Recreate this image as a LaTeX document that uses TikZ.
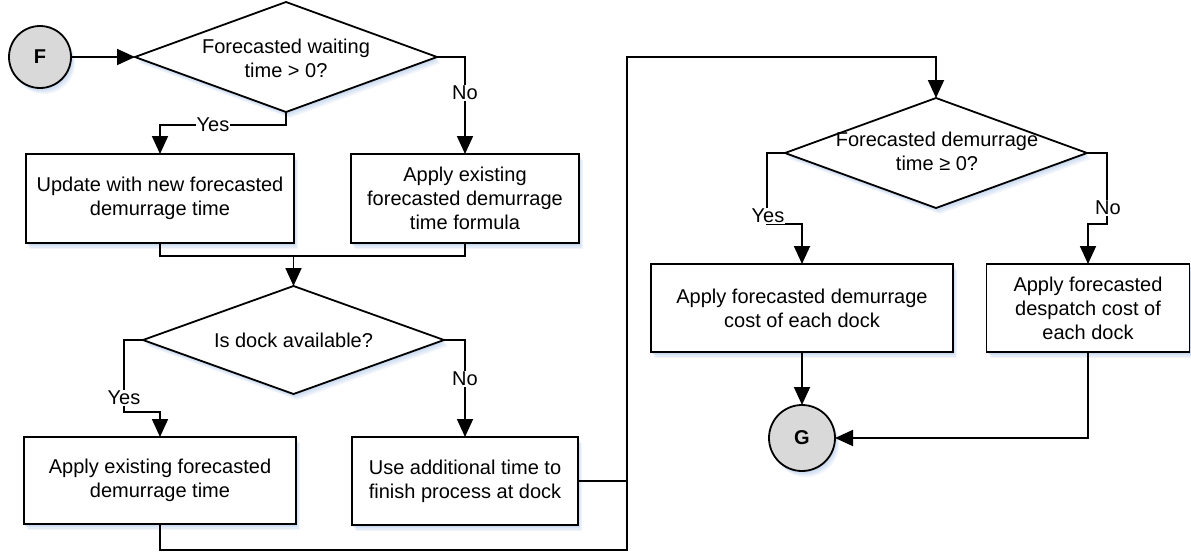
\documentclass[tikz,border=0pt]{standalone}
\usepackage{fontspec}
\setmainfont{Liberation Sans}
\usetikzlibrary{shapes.geometric, arrows.meta}
\definecolor{glow}{HTML}{A9C3E6}
\begin{document}
\begin{tikzpicture}[x=1pt, y=-1pt,
  font=\fontsize{20}{24}\selectfont,
  line width=1.8pt,
  soft/.style={
    preaction={fill=glow, fill opacity=0.16, transform canvas={shift={(4pt,-6pt)}}},
    preaction={fill=glow, fill opacity=0.20, transform canvas={shift={(3pt,-4.5pt)}}},
    preaction={fill=glow, fill opacity=0.24, transform canvas={shift={(2pt,-3pt)}}},
    preaction={fill=glow, fill opacity=0.28, transform canvas={shift={(1pt,-1.5pt)}}}},
  box/.style={draw, fill=white, rectangle, inner sep=0pt, outer sep=0pt,
      align=center, soft},
  dia/.style={draw, fill=white, diamond, inner sep=0pt, outer sep=0pt, soft},
  dtext/.style={align=center, inner sep=0pt},
  term/.style={draw, circle, fill=gray!30, inner sep=0pt, outer sep=0pt,
      font=\fontsize{20}{24}\selectfont\bfseries, soft},
  lbl/.style={fill=white, inner sep=1pt},
  arr/.style={-{Triangle[length=18pt, width=16pt]}}
]
\useasboundingbox (0,0) rectangle (1191,552);

% start terminal and first decision
\node[term, minimum size=62pt] (f) at (40,57) {F};
\node[dia, minimum width=302pt, minimum height=110pt] (d1) at (286,57) {};
\node[dtext] (d1t) at (286,58) {Forecasted waiting\\time > 0?};

\node[box, minimum width=268pt, minimum height=89pt] (b1) at (160,198.5)
  {Update with new forecasted\\demurrage time};
\node[box, minimum width=228pt, minimum height=89pt] (b2) at (465,198.5)
  {Apply existing\\forecasted demurrage\\time formula};

% dock availability
\node[dia, minimum width=301pt, minimum height=108pt] (d2) at (293.5,340) {};
\node[dtext] (d2t) at (293.5,340) {Is dock available?};

\node[box, minimum width=272pt, minimum height=87pt] (b3) at (160,480.5)
  {Apply existing forecasted\\demurrage time};
\node[box, minimum width=226pt, minimum height=88pt] (b4) at (465,481)
  {Use additional time to\\finish process at dock};

% demurrage / despatch decision
\node[dia, minimum width=302pt, minimum height=110pt] (d3) at (936,153) {};
\node[dtext] (d3t) at (937,151) {Forecasted demurrage\\time ≥ 0?};

\node[box, minimum width=302pt, minimum height=88pt] (b5) at (802,308)
  {Apply forecasted demurrage\\cost of each dock};
\node[box, minimum width=203pt, minimum height=88pt] (b6) at (1088,308)
  {Apply forecasted\\despatch cost of\\each dock};

\node[term, minimum size=66pt] (g) at (802,438) {G};

\coordinate (bus) at (627,57);

% connectors
\draw[arr] (f) -- (d1.west);
\draw[arr] (d1.south) -- ++(0,13) -| (b1.north);
\node[lbl] (y1) at (213,125) {Yes};
\draw[arr] (d1.east) -| (b2.north);
\node[lbl] (n1) at (465,93) {No};

\draw (b1.south) -- ++(0,13) -| (b2.south);
\draw[arr] ([yshift=-13pt]b1.south -| d2.north) -- (d2.north);

\draw[arr] (d2.west) -- ++(-19,0) -- ++(0,72) -| (b3.north);
\node[lbl] (y2) at (124,398) {Yes};
\draw[arr] (d2.east) -| (b4.north);
\node[lbl] (n2) at (465,379) {No};

\draw[arr] (b3.south) -- ++(0,26) -| (bus) -| (d3.north);
\draw (b4.east) -- (b4.east -| bus);

\draw[arr] (d3.west) -- ++(-18,0) -- ++(0,71) -| (b5.north);
\node[lbl] (y3) at (768,216) {Yes};
\draw[arr] (d3.east) -- ++(20,0) -- ++(0,71) -| (b6.north);
\node[lbl] (n3) at (1108,208) {No};

\draw[arr] (b5.south) -- (g.north);
\draw[arr] (b6.south) |- (g.east);
\end{tikzpicture}
\end{document}
